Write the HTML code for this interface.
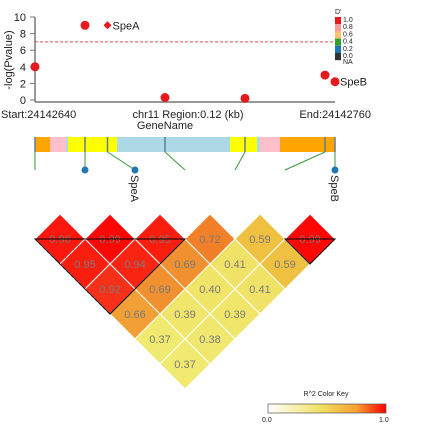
<!DOCTYPE html>
<html><head><meta charset="utf-8"><style>body{margin:0;background:#fff}svg{display:block;font-family:"Liberation Sans",sans-serif}</style></head>
<body>
<svg id="c" width="423" height="431"></svg>
<script>
const snpNames=["rs1","rs2","SpeA","rs4","rs5","rs6","SpeB"];
const snpPos=[24142640,24142660,24142669,24142692,24142724,24142756,24142760];
const pvals=[4,9,9,0.3,0.2,3,2.2];
const connX=[35,85,135,185,235,285,335];
const ldRows=[[0.96,0.99,0.95,0.72,0.59,0.99],[0.95,0.94,0.69,0.41,0.59],[0.92,0.69,0.40,0.41],[0.66,0.39,0.39],[0.37,0.38],[0.37]];
const yTicks=[0,2,4,6,8,10];
const NS="http://www.w3.org/2000/svg",S=document.getElementById('c');
function el(t,a,p){const e=document.createElementNS(NS,t);for(const k in a)e.setAttribute(k,a[k]);(p||S).appendChild(e);return e;}
const xS=p=>35+(p-24142640)/120*300, yS=v=>100-v*8.3;
let g=el('g',{});
el('line',{x1:35,y1:17,x2:35,y2:102,stroke:'#777','stroke-width':1.5},g);
el('line',{x1:35,y1:102,x2:335,y2:102,stroke:'#777','stroke-width':1.5},g);
yTicks.forEach(v=>{el('line',{x1:30,y1:yS(v),x2:35,y2:yS(v),stroke:'#777'},g);const t=el('text',{x:26,y:yS(v)+4,'font-size':11,'text-anchor':'end',fill:'#222'},g);t.textContent=v;});
let yt=el('text',{transform:'translate(12,60) rotate(-90)','font-size':11,'text-anchor':'middle',fill:'#222'},g);yt.textContent='-log(Pvalue)';
el('line',{x1:35,y1:yS(7),x2:333,y2:yS(7),stroke:'#e05050','stroke-dasharray':'3,2'},g);
pvals.forEach((v,i)=>{const x=xS(snpPos[i]),y=yS(v);let m;
 if(i==2)m=el('path',{d:`M${x} ${y-4}L${x+4} ${y}L${x} ${y+4}L${x-4} ${y}Z`,fill:'#e41a1c'},g);else m=el('circle',{cx:x,cy:y,r:4.5,fill:'#e41a1c'},g);
 
 if(snpNames[i].startsWith('Spe')){const t=el('text',{x:x+5,y:y+4,'font-size':11,fill:'#222'},g);t.textContent=snpNames[i];}});
[['Start:24142640',1,118,'start'],['chr11 Region:0.12 (kb)',188,118,'middle'],['End:24142760',371,118,'end'],['GeneName',165,129,'middle']].forEach(a=>{const t=el('text',{x:a[1],y:a[2],'font-size':11,'text-anchor':a[3],fill:'#222'},g);t.textContent=a[0];});
const dl=[['#e41a1c','1.0'],['#fb9a99','0.8'],['#fdbf6f','0.6'],['#33a02c','0.4'],['#1f78b4','0.2'],['#333','0.0']];
let lg=el('g',{});
el('text',{x:335,y:14,'font-size':7,fill:'#222'},lg).textContent="D'";
dl.forEach((d,i)=>{el('rect',{x:335,y:17+i*7.2,width:6,height:7.2,fill:d[0]},lg);el('text',{x:343,y:22+i*7.2,'font-size':7,fill:'#222'},lg).textContent=d[1];});
el('text',{x:343,y:64,'font-size':7,fill:'#222'},lg).textContent='NA';
let gt=el('g',{});
[[35,50,'orange'],[50,66,'pink'],[66,68,'lightblue'],[68,117,'yellow'],[117,230,'lightblue'],[230,257,'yellow'],[257,260,'lightblue'],[260,280,'pink'],[280,335,'orange']].forEach(s=>el('rect',{x:s[0],y:137,width:s[1]-s[0],height:15,fill:s[2]},gt));
snpPos.forEach((p,i)=>{const x=xS(p);el('line',{x1:x,y1:137,x2:x,y2:152,stroke:'#5b7f9a','stroke-width':1.5},gt);
 el('line',{x1:x,y1:152,x2:connX[i],y2:170,stroke:'#3a9a3a','stroke-width':1},gt);
 if(i==1||i==2||i==6){const c=el('circle',{cx:connX[i],cy:170,r:3.5,fill:'#1f78b4'},gt);}
 if(i==2||i==6){el('text',{transform:`translate(${connX[i]-4},175) rotate(90)`,'font-size':11,fill:'#222'},gt).textContent=snpNames[i];}});
function col(v){const st=[[0.37,[240,234,112]],[0.59,[240,192,64]],[0.66,[240,160,52]],[0.72,[242,128,40]],[0.92,[248,48,24]],[1,[255,0,0]]];
 for(let k=1;k<st.length;k++)if(v<=st[k][0]){const a=st[k-1],b=st[k],t=Math.max(0,(v-a[0])/(b[0]-a[0]));return 'rgb('+a[1].map((c,j)=>Math.round(c+(b[1][j]-c)*t)).join(',')+')';}return 'rgb(255,0,0)';}
let hm=el('g',{});
ldRows.forEach((row,r)=>row.forEach((v,i)=>{const j=i+r+1,cx=35+25*(i+j),cy=239+25*r;
 const p=el('path',{d:`M${cx} ${cy-25}L${cx+25} ${cy}L${cx} ${cy+25}L${cx-25} ${cy}Z`,fill:col(v),stroke:'#fff','stroke-width':1},hm);
 
 el('text',{x:cx,y:cy+4,'font-size':11,'text-anchor':'middle',fill:'#7a7a7a'},hm).textContent=v.toFixed(2);}));
el('path',{d:'M35 239L185 239L110 314Z',fill:'none',stroke:'#000','stroke-width':1},hm);
el('path',{d:'M285 239L335 239L310 264Z',fill:'none',stroke:'#000','stroke-width':1},hm);
let ck=el('g',{});
const df=el('defs',{},ck),lgr=el('linearGradient',{id:'gk'},df);
[['0','#fff'],['0.45','#f0e060'],['0.75','#f8a030'],['1','#ff0000']].forEach(s=>el('stop',{offset:s[0],'stop-color':s[1]},lgr));
el('rect',{x:268,y:404,width:118,height:9,fill:'url(#gk)',stroke:'#555','stroke-width':0.7},ck);
el('text',{x:326,y:396,'font-size':7,'text-anchor':'middle',fill:'#222'},ck).textContent='R^2 Color Key';
el('text',{x:262,y:422,'font-size':7,fill:'#222'},ck).textContent='0.0';
el('text',{x:379,y:422,'font-size':7,fill:'#222'},ck).textContent='1.0';
</script>
</body></html>
